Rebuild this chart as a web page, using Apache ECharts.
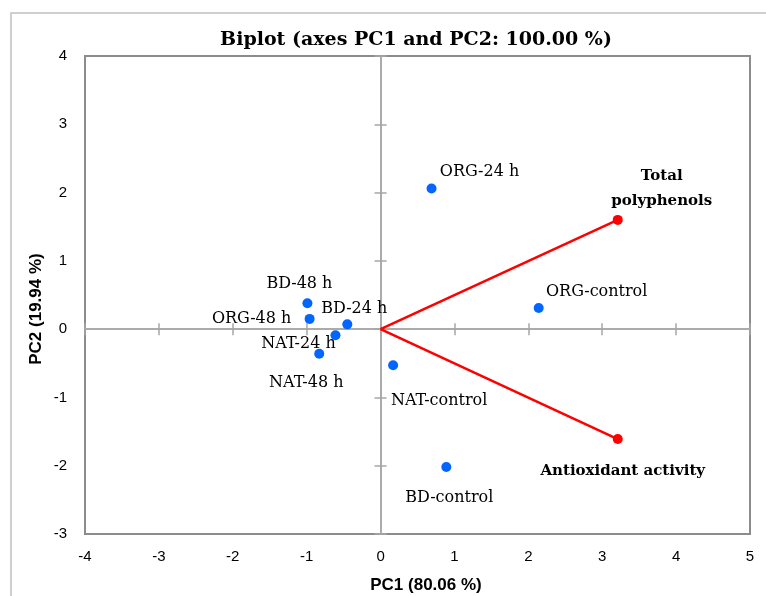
<!DOCTYPE html>
<html>
<head>
<meta charset="utf-8">
<script src="https://cdn.jsdelivr.net/npm/echarts@6/dist/echarts.min.js"></script>
<style>
  html, body { margin: 0; padding: 0; background: #fff; }
  #chart { width: 766px; height: 596px; }
</style>
</head>
<body>
<div id="chart"></div>
<script>
// ---- data ----
const sampleNames = ['ORG-24 h', 'ORG-control', 'BD-48 h', 'ORG-48 h', 'BD-24 h', 'NAT-24 h', 'NAT-48 h', 'NAT-control', 'BD-control'];
const samplePC1 = [0.69, 2.14, -0.99, -0.96, -0.45, -0.61, -0.83, 0.17, 0.89];
const samplePC2 = [2.06, 0.31, 0.38, 0.15, 0.07, -0.09, -0.36, -0.53, -2.02];

const variableNames = ['Total\npolyphenols', 'Antioxidant activity'];
const variablePC1 = [3.21, 3.21];
const variablePC2 = [1.60, -1.61];

const xTicks = { min: -4, max: 5, interval: 1 };
const yTicks = { min: -3, max: 4, interval: 1 };

// ---- label placement (style) ----
const sampleLabelOffsets = [[48, -17], [58, -16], [-8, -19], [-58, 0], [7, -16], [-37, 9], [-13, 29], [46, 36], [3, 31]];
const variableLabelOffsets = [[44, -31], [5, 32]];

const serif = 'DejaVu Serif';
const sans = 'Liberation Sans';

const chart = echarts.init(document.getElementById('chart'), null, { renderer: 'canvas' });

const baseX = { type: 'value', min: xTicks.min, max: xTicks.max, interval: xTicks.interval, splitLine: { show: false } };
const baseY = { type: 'value', min: yTicks.min, max: yTicks.max, interval: yTicks.interval, splitLine: { show: false } };
const zeroLine = { lineStyle: { color: '#a6a6a6', width: 1.5 } };
const zeroTick = (inside) => ({ show: true, inside: inside, length: 6, lineStyle: { color: '#a6a6a6', width: 1.5 } });

const samples = sampleNames.map((n, i) => ({
  name: n,
  value: [samplePC1[i], samplePC2[i]],
  label: { offset: sampleLabelOffsets[i] }
}));
const variables = variableNames.map((n, i) => ({
  name: n,
  value: [variablePC1[i], variablePC2[i]],
  label: { offset: variableLabelOffsets[i] }
}));

const vectorSeries = variableNames.map((n, i) => ({
  type: 'line',
  data: [[0, 0], [variablePC1[i], variablePC2[i]]],
  symbol: 'none',
  lineStyle: { color: '#ff0000', width: 2.5 },
  silent: true,
  z: 3
}));

chart.setOption({
  animation: false,
  grid: { left: 85, right: 16, top: 56, bottom: 62, show: true, borderColor: '#8c8c8c', borderWidth: 2, backgroundColor: 'transparent' },
  xAxis: [
    Object.assign({}, baseX, {
      position: 'bottom',
      axisLine: { show: false },
      axisTick: { show: false },
      axisLabel: { margin: 15, fontFamily: sans, fontSize: 15, color: '#000' }
    }),
    Object.assign({}, baseX, {
      position: 'bottom',
      axisLine: Object.assign({ show: true, onZero: true, onZeroAxisIndex: 0 }, zeroLine),
      axisTick: zeroTick(false),
      axisLabel: { show: false }
    }),
    Object.assign({}, baseX, {
      position: 'bottom',
      axisLine: Object.assign({ show: true, onZero: true, onZeroAxisIndex: 0 }, zeroLine),
      axisTick: zeroTick(true),
      axisLabel: { show: false }
    })
  ],
  yAxis: [
    Object.assign({}, baseY, {
      position: 'left',
      axisLine: { show: false },
      axisTick: { show: false },
      axisLabel: { margin: 18, fontFamily: sans, fontSize: 15, color: '#000' }
    }),
    Object.assign({}, baseY, {
      position: 'left',
      axisLine: Object.assign({ show: true, onZero: true, onZeroAxisIndex: 0 }, zeroLine),
      axisTick: zeroTick(false),
      axisLabel: { show: false }
    }),
    Object.assign({}, baseY, {
      position: 'left',
      axisLine: Object.assign({ show: true, onZero: true, onZeroAxisIndex: 0 }, zeroLine),
      axisTick: zeroTick(true),
      axisLabel: { show: false }
    })
  ],
  graphic: [
    { type: 'rect', shape: { x: 11, y: 13, width: 800, height: 700 }, style: { fill: 'none', stroke: '#c0c0c0', lineWidth: 1.5 }, silent: true, z: -10 },
    { type: 'text', x: 416, y: 40, style: { text: 'Biplot (axes PC1 and PC2: 100.00 %)', font: 'bold 19px "DejaVu Serif"', fill: '#000', textAlign: 'center', textVerticalAlign: 'middle' } },
    { type: 'text', x: 426, y: 585, style: { text: 'PC1 (80.06 %)', font: 'bold 17px "Liberation Sans"', fill: '#000', textAlign: 'center', textVerticalAlign: 'middle' } },
    { type: 'text', x: 36, y: 309, rotation: Math.PI / 2, style: { text: 'PC2 (19.94 %)', font: 'bold 17px "Liberation Sans"', fill: '#000', textAlign: 'center', textVerticalAlign: 'middle' } }
  ],
  series: vectorSeries.concat([
    {
      type: 'scatter',
      data: samples,
      symbolSize: 10,
      itemStyle: { color: '#0066ff', opacity: 1 },
      label: { show: true, position: 'inside', formatter: '{b}', fontFamily: serif, fontSize: 16, color: '#000', align: 'center', verticalAlign: 'middle' },
      z: 4
    },
    {
      type: 'scatter',
      data: variables,
      symbolSize: 10,
      itemStyle: { color: '#ff0000', opacity: 1 },
      label: { show: true, position: 'inside', formatter: '{b}', fontFamily: serif, fontWeight: 'bold', fontSize: 15, lineHeight: 25, color: '#000', align: 'center', verticalAlign: 'middle' },
      z: 5
    }
  ])
});
</script>
</body>
</html>
